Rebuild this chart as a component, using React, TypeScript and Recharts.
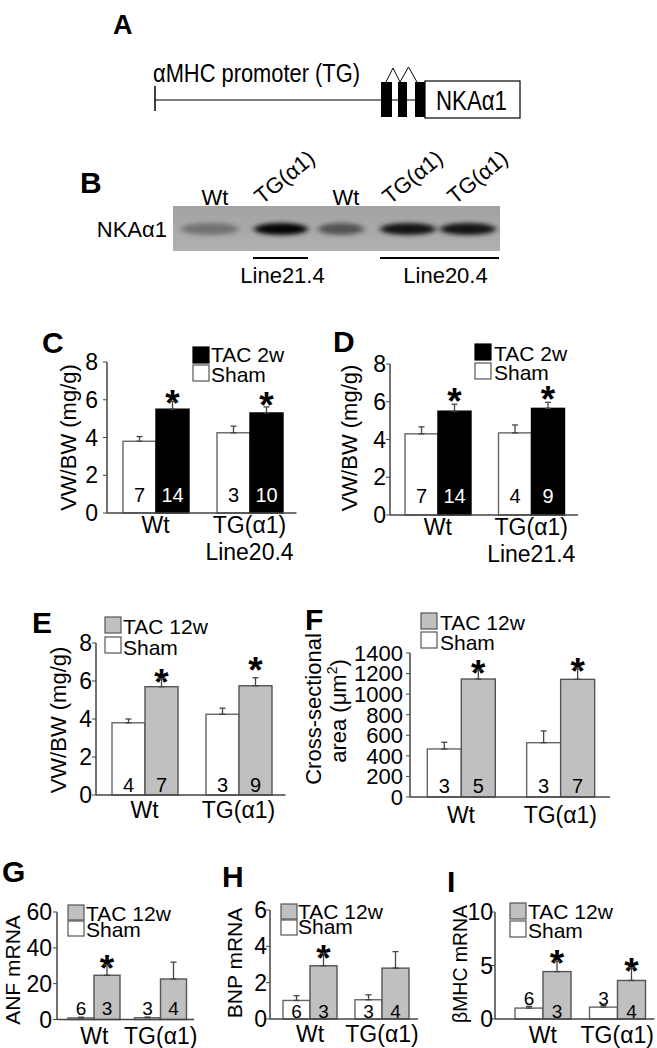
import React from "react";
import { Bar, BarChart, ErrorBar, XAxis, YAxis } from "recharts";

const FONT = '"Liberation Sans", Arial, Helvetica, sans-serif';
const AXIS = "#444";
const GRAY = "#c0c0c0";

const groups = ["Wt", "TG(α1)"];
const tac2Name = "TAC 2w";
const tac12Name = "TAC 12w";
const shamName = "Sham";

// C  VW/BW, TAC 2w, TG line 20.4
const cSham = [3.8, 4.25];
const cShamErr = [0.25, 0.35];
const cTac = [5.5, 5.3];
const cTacErr = [0.42, 0.32];
const cNSham = [7, 3];
const cNTac = [14, 10];
const cStar = [true, true];

// D  VW/BW, TAC 2w, TG line 21.4
const dSham = [4.3, 4.35];
const dShamErr = [0.37, 0.42];
const dTac = [5.5, 5.65];
const dTacErr = [0.37, 0.32];
const dNSham = [7, 4];
const dNTac = [14, 9];
const dStar = [true, true];

// E  VW/BW, TAC 12w
const eSham = [3.8, 4.25];
const eShamErr = [0.2, 0.32];
const eTac = [5.7, 5.75];
const eTacErr = [0.42, 0.42];
const eNSham = [4, 3];
const eNTac = [7, 9];
const eStar = [true, true];

// F  cross-sectional area
const fSham = [467, 528];
const fShamErr = [65, 114];
const fTac = [1147, 1144];
const fTacErr = [88, 113];
const fNSham = [3, 3];
const fNTac = [5, 7];
const fStar = [true, true];

// G  ANF mRNA
const gSham = [0.9, 1.0];
const gShamErr = [0.4, 0.4];
const gTac = [24.7, 22.6];
const gTacErr = [5.8, 9.4];
const gNSham = [6, 3];
const gNTac = [3, 4];
const gStar = [true, false];

// H  BNP mRNA
const hSham = [1.02, 1.06];
const hShamErr = [0.26, 0.27];
const hTac = [2.93, 2.8];
const hTacErr = [0.69, 0.91];
const hNSham = [6, 3];
const hNTac = [3, 4];
const hStar = [true, false];

// I  betaMHC mRNA
const iSham = [1.02, 1.11];
const iShamErr = [0.16, 0.16];
const iTac = [4.43, 3.6];
const iTacErr = [0.99, 1.2];
const iNSham = [6, 3];
const iNTac = [3, 4];
const iStar = [true, true];

const vwTicks = [0, 2, 4, 6, 8];
const areaTicks = [0, 200, 400, 600, 800, 1000, 1200, 1400];
const anfTicks = [0, 20, 40, 60];
const bnpTicks = [0, 2, 4, 6];
const mhcTicks = [0, 5, 10];

// western blot lanes
const laneLabels = ["Wt", "TG(α1)", "Wt", "TG(α1)", "TG(α1)"];
const laneDensity = [0.32, 0.97, 0.5, 0.88, 0.88];

function rows(sham: number[], shamErr: number[], tac: number[], tacErr: number[], nSham: number[], nTac: number[], star: boolean[]) {
  return groups.map((g, i) => ({
    group: g,
    sham: sham[i],
    tac: tac[i],
    shamE: [0, shamErr[i]],
    tacE: [0, tacErr[i]],
    tacErr: tacErr[i],
    nSham: nSham[i],
    nTac: nTac[i],
    star: star[i],
  }));
}

type Lay = {
  axisX: number; top: number; zero: number; right: number; padL: number; gap: number;
  max: number; ticks: number[]; tickGap: number; xDy: number[]; nOff: number[]; nSize: number;
  starGap: number[]; tacFill: string; tacStroke: string; nTacColor: string;
};

function barShape(kind: "sham" | "tac", lay: Lay) {
  return (p: any) => {
    const { x, y, width, height, payload, index } = p;
    const isTac = kind === "tac";
    const v = payload[kind];
    const ppu = v ? height / v : 0;
    const cx = x + width / 2;
    const errTop = y - (payload.tacErr || 0) * ppu;
    return (
      <g>
        <rect x={x} y={y} width={width} height={height}
          fill={isTac ? lay.tacFill : "#fff"} stroke={isTac ? lay.tacStroke : "#666"} strokeWidth={1.4} />
        <text x={cx} y={y + height - lay.nOff[isTac ? 1 : 0]} textAnchor="middle" fontFamily={FONT}
          fontSize={lay.nSize} fill={isTac ? lay.nTacColor : "#000"}>
          {payload[isTac ? "nTac" : "nSham"]}
        </text>
        {isTac && payload.star ? (
          <text x={cx} y={errTop - lay.starGap[index] + 16} textAnchor="middle" fontFamily={FONT}
            fontWeight="bold" fontSize={37} fill="#000">*</text>
        ) : null}
      </g>
    );
  };
}

function xTick(lines: string[][], lay: Lay) {
  return (p: any) => {
    const { x, y, payload, index } = p;
    const ls = lines[index] ?? [payload.value];
    return (
      <g>
        {ls.map((t, i) => (
          <text key={i} x={x} y={y + lay.xDy[i]} textAnchor="middle" fontFamily={FONT} fontSize={23} fill="#000">{t}</text>
        ))}
      </g>
    );
  };
}

function Panel({ data, lay, lines, fs = 23 }: { data: any[]; lay: Lay; lines: string[][]; fs?: number }) {
  const W = 70, mTop = 14, xH = 70, mRight = 4;
  const plotW = lay.right - lay.axisX;
  const plotH = lay.zero - lay.top;
  return (
    <div style={{ position: "absolute", left: lay.axisX - W, top: lay.top - mTop }}>
      <BarChart width={W + plotW + mRight} height={mTop + plotH + xH} data={data}
        margin={{ top: mTop, right: mRight, bottom: 0, left: 0 }} barCategoryGap={lay.gap} barGap={0}>
        <XAxis dataKey="group" interval={0} tickLine={false} tickSize={0} tickMargin={0} height={xH}
          padding={{ left: lay.padL, right: 0 }} axisLine={{ stroke: AXIS, strokeWidth: 1.5 }}
          tick={xTick(lines, lay)} />
        <YAxis type="number" domain={[0, lay.max]} ticks={lay.ticks} interval={0} width={W}
          tickSize={4} tickMargin={lay.tickGap - 4} axisLine={{ stroke: AXIS, strokeWidth: 1.5 }}
          tickLine={{ stroke: AXIS }} tick={{ fill: "#000", fontSize: fs, fontFamily: FONT }} />
        <Bar dataKey="sham" isAnimationActive={false} shape={barShape("sham", lay)}>
          <ErrorBar dataKey="shamE" width={3} stroke={AXIS} strokeWidth={1.3} direction="y" />
        </Bar>
        <Bar dataKey="tac" isAnimationActive={false} shape={barShape("tac", lay)}>
          <ErrorBar dataKey="tacE" width={3} stroke={AXIS} strokeWidth={1.3} direction="y" />
        </Bar>
      </BarChart>
    </div>
  );
}

const black = { tacFill: "#000", tacStroke: "#000", nTacColor: "#fff" };
const grey = { tacFill: GRAY, tacStroke: "#555", nTacColor: "#000" };

const layC: Lay = { axisX: 107, top: 362, zero: 513, right: 296.5, padL: 1.5, gap: 14.5, max: 8, ticks: vwTicks, tickGap: 9, xDy: [20, 47], nOff: [11, 11], nSize: 20, starGap: [1, 5], ...black };
const layD: Lay = { axisX: 390, top: 364, zero: 515, right: 578, padL: 1, gap: 14, max: 8, ticks: vwTicks, tickGap: 4, xDy: [20, 47], nOff: [12, 12], nSize: 20, starGap: [6, 6], ...black };
const layE: Lay = { axisX: 96, top: 643, zero: 795, right: 285.5, padL: 1.5, gap: 14.5, max: 8, ticks: vwTicks, tickGap: 4, xDy: [23], nOff: [3, 3], nSize: 20, starGap: [0, 11], ...grey };
const layF: Lay = { axisX: 410, top: 653, zero: 797, right: 610, padL: 1.3, gap: 16, max: 1400, ticks: areaTicks, tickGap: 7, xDy: [26], nOff: [4, 4], nSize: 20, starGap: [0, 0], ...grey };
const layG: Lay = { axisX: 57, top: 912, zero: 1019.5, right: 194, padL: 4, gap: 7, max: 60, ticks: anfTicks, tickGap: 5, xDy: [24], nOff: [4.5, 4.5], nSize: 19, starGap: [0, 0], ...grey };
const layH: Lay = { axisX: 270, top: 910, zero: 1019, right: 418, padL: 4, gap: 9, max: 6, ticks: bnpTicks, tickGap: 3, xDy: [23], nOff: [1.5, 1.5], nSize: 19, starGap: [-2, 0], ...grey };
const layI: Lay = { axisX: 495, top: 912, zero: 1019, right: 654.5, padL: 10.5, gap: 9.5, max: 10, ticks: mhcTicks, tickGap: 2, xDy: [24], nOff: [14, 1], nSize: 19, starGap: [1, 0], ...grey };

const letters = [
  { t: "A", x: 113, y: 34, fs: 27 }, { t: "B", x: 80, y: 193, fs: 30 }, { t: "C", x: 42, y: 353, fs: 30 },
  { t: "D", x: 333, y: 352, fs: 30 }, { t: "E", x: 32, y: 633, fs: 30 }, { t: "F", x: 305, y: 630, fs: 30 },
  { t: "G", x: 2, y: 882, fs: 30 }, { t: "H", x: 222, y: 887, fs: 30 }, { t: "I", x: 447, y: 892, fs: 30 },
];

const legends = [
  { x: 193, y1: 347, y2: 365, tx: 211, b1: 362, b2: 382, fill: "#000", stroke: "#000", name: tac2Name },
  { x: 475, y1: 344, y2: 363, tx: 494, b1: 361, b2: 380, fill: "#000", stroke: "#000", name: tac2Name },
  { x: 105, y1: 617, y2: 637, tx: 123, b1: 634, b2: 655, fill: GRAY, stroke: "#555", name: tac12Name },
  { x: 421, y1: 613, y2: 632, tx: 440, b1: 630, b2: 650, fill: GRAY, stroke: "#555", name: tac12Name },
  { x: 68, y1: 905, y2: 921, tx: 86, b1: 921, b2: 937, fill: GRAY, stroke: "#555", name: tac12Name },
  { x: 281, y1: 904, y2: 920, tx: 298, b1: 919, b2: 934, fill: GRAY, stroke: "#555", name: tac12Name },
  { x: 510, y1: 903, y2: 921, tx: 528, b1: 919, b2: 938, fill: GRAY, stroke: "#555", name: tac12Name },
];

const yLabels = [
  { t: "VW/BW (mg/g)", bx: 76, cy: 437.5, fs: 22 },
  { t: "VW/BW (mg/g)", bx: 357, cy: 438, fs: 22 },
  { t: "VW/BW (mg/g)", bx: 66, cy: 720, fs: 22 },
  { t: "Cross-sectional", bx: 321, cy: 709, fs: 22 },
  { t: "ANF mRNA", bx: 20, cy: 970, fs: 21 },
  { t: "BNP mRNA", bx: 242, cy: 963, fs: 21 },
  { t: "βMHC mRNA", bx: 467, cy: 964, fs: 21, len: 118 },
];

const laneX = [210, 281, 341, 408, 468];
const laneW = [58, 54, 46, 56, 56];
const laneLabelX = [215, 262, 346, 390, 455];

function Overlay() {
  return (
    <svg width={657} height={1048} style={{ position: "absolute", left: 0, top: 0 }} fontFamily={FONT}>
      <defs>
        <filter id="bandBlur" x="-50%" y="-100%" width="200%" height="300%">
          <feGaussianBlur stdDeviation="3 2.2" />
        </filter>
        <linearGradient id="blotBg" x1="0" y1="0" x2="0" y2="1">
          <stop offset="0" stopColor="#a2a2a2" />
          <stop offset="1" stopColor="#b0b0b0" />
        </linearGradient>
      </defs>

      {letters.map((l) => (
        <text key={l.t} x={l.x} y={l.y} fontSize={l.fs} fontWeight="bold" fill="#000">{l.t}</text>
      ))}

      {/* A: construct */}
      <text x={153} y={82} fontSize={25} textLength={207} lengthAdjust="spacingAndGlyphs">αMHC promoter (TG)</text>
      <line x1={155} y1={86} x2={155} y2={111} stroke="#000" strokeWidth={1.5} />
      <line x1={155} y1={100} x2={425} y2={100} stroke="#000" strokeWidth={1.2} />
      <rect x={381} y={82} width={11} height={35} fill="#000" />
      <rect x={398} y={82} width={9} height={35} fill="#000" />
      <rect x={415} y={82} width={10} height={35} fill="#000" />
      <polyline points="386,82 393,68 400,82 408.5,67 417,82" fill="none" stroke="#000" strokeWidth={1} />
      <rect x={425} y={81} width={95} height={37} fill="#fff" stroke="#000" strokeWidth={1.2} />
      <text x={436} y={110} fontSize={27} textLength={71} lengthAdjust="spacingAndGlyphs">NKAα1</text>

      {/* B: blot */}
      <text x={167} y={237} fontSize={22} textAnchor="end">NKAα1</text>
      <rect x={173} y={206} width={327} height={45} fill="url(#blotBg)" />
      {laneX.map((cx, i) => (
        <ellipse key={i} cx={cx} cy={229} rx={laneW[i] / 2} ry={6} fill="#000" opacity={laneDensity[i]} filter="url(#bandBlur)" />
      ))}
      {laneLabels.map((t, i) =>
        t === "Wt" ? (
          <text key={i} x={laneLabelX[i]} y={205} fontSize={22} textAnchor="middle">{t}</text>
        ) : (
          <text key={i} x={0} y={0} fontSize={22} transform={`translate(${laneLabelX[i]},205) rotate(-39)`}>{t}</text>
        )
      )}
      <line x1={253} y1={258} x2={308} y2={258} stroke="#000" strokeWidth={2} />
      <line x1={380} y1={258} x2={499} y2={258} stroke="#000" strokeWidth={2} />
      <text x={282.5} y={283} fontSize={22} textAnchor="middle">Line21.4</text>
      <text x={445.5} y={283} fontSize={22} textAnchor="middle">Line20.4</text>

      {/* legends */}
      {legends.map((l, i) => {
        const h = Math.min(16, l.y2 - l.y1 - 1);
        return (
          <g key={i}>
            <rect x={l.x} y={l.y1} width={16} height={h} fill={l.fill} stroke={l.stroke} strokeWidth={1.2} />
            <rect x={l.x} y={l.y2} width={16} height={h} fill="#fff" stroke="#555" strokeWidth={1.2} />
            <text x={l.tx} y={l.b1} fontSize={21}>{l.name}</text>
            <text x={l.tx} y={l.b2} fontSize={21}>{shamName}</text>
          </g>
        );
      })}

      {/* y axis titles */}
      {yLabels.map((l, i) => (
        <text key={i} transform={`translate(${l.bx},${l.cy}) rotate(-90)`} textAnchor="middle" fontSize={l.fs}
          textLength={l.len} lengthAdjust={l.len ? "spacingAndGlyphs" : undefined}>{l.t}</text>
      ))}
      <text transform="translate(346,711) rotate(-90)" textAnchor="middle" fontSize={22}>
        area (μm<tspan fontSize={14} dy={-9}>2</tspan><tspan dy={9}>)</tspan>
      </text>
    </svg>
  );
}

export default function App() {
  const twoLine20 = [["Wt"], ["TG(α1)", "Line20.4"]];
  const twoLine21 = [["Wt"], ["TG(α1)", "Line21.4"]];
  const one = [["Wt"], ["TG(α1)"]];
  return (
    <div style={{ position: "relative", width: 657, height: 1048, background: "#fff", fontFamily: FONT, overflow: "hidden" }}>
      <style>{"body{margin:0}"}</style>
      <Overlay />
      <Panel data={rows(cSham, cShamErr, cTac, cTacErr, cNSham, cNTac, cStar)} lay={layC} lines={twoLine20} />
      <Panel data={rows(dSham, dShamErr, dTac, dTacErr, dNSham, dNTac, dStar)} lay={layD} lines={twoLine21} />
      <Panel data={rows(eSham, eShamErr, eTac, eTacErr, eNSham, eNTac, eStar)} lay={layE} lines={one} />
      <Panel data={rows(fSham, fShamErr, fTac, fTacErr, fNSham, fNTac, fStar)} lay={layF} lines={one} fs={22} />
      <Panel data={rows(gSham, gShamErr, gTac, gTacErr, gNSham, gNTac, gStar)} lay={layG} lines={one} />
      <Panel data={rows(hSham, hShamErr, hTac, hTacErr, hNSham, hNTac, hStar)} lay={layH} lines={one} />
      <Panel data={rows(iSham, iShamErr, iTac, iTacErr, iNSham, iNTac, iStar)} lay={layI} lines={one} />
    </div>
  );
}
